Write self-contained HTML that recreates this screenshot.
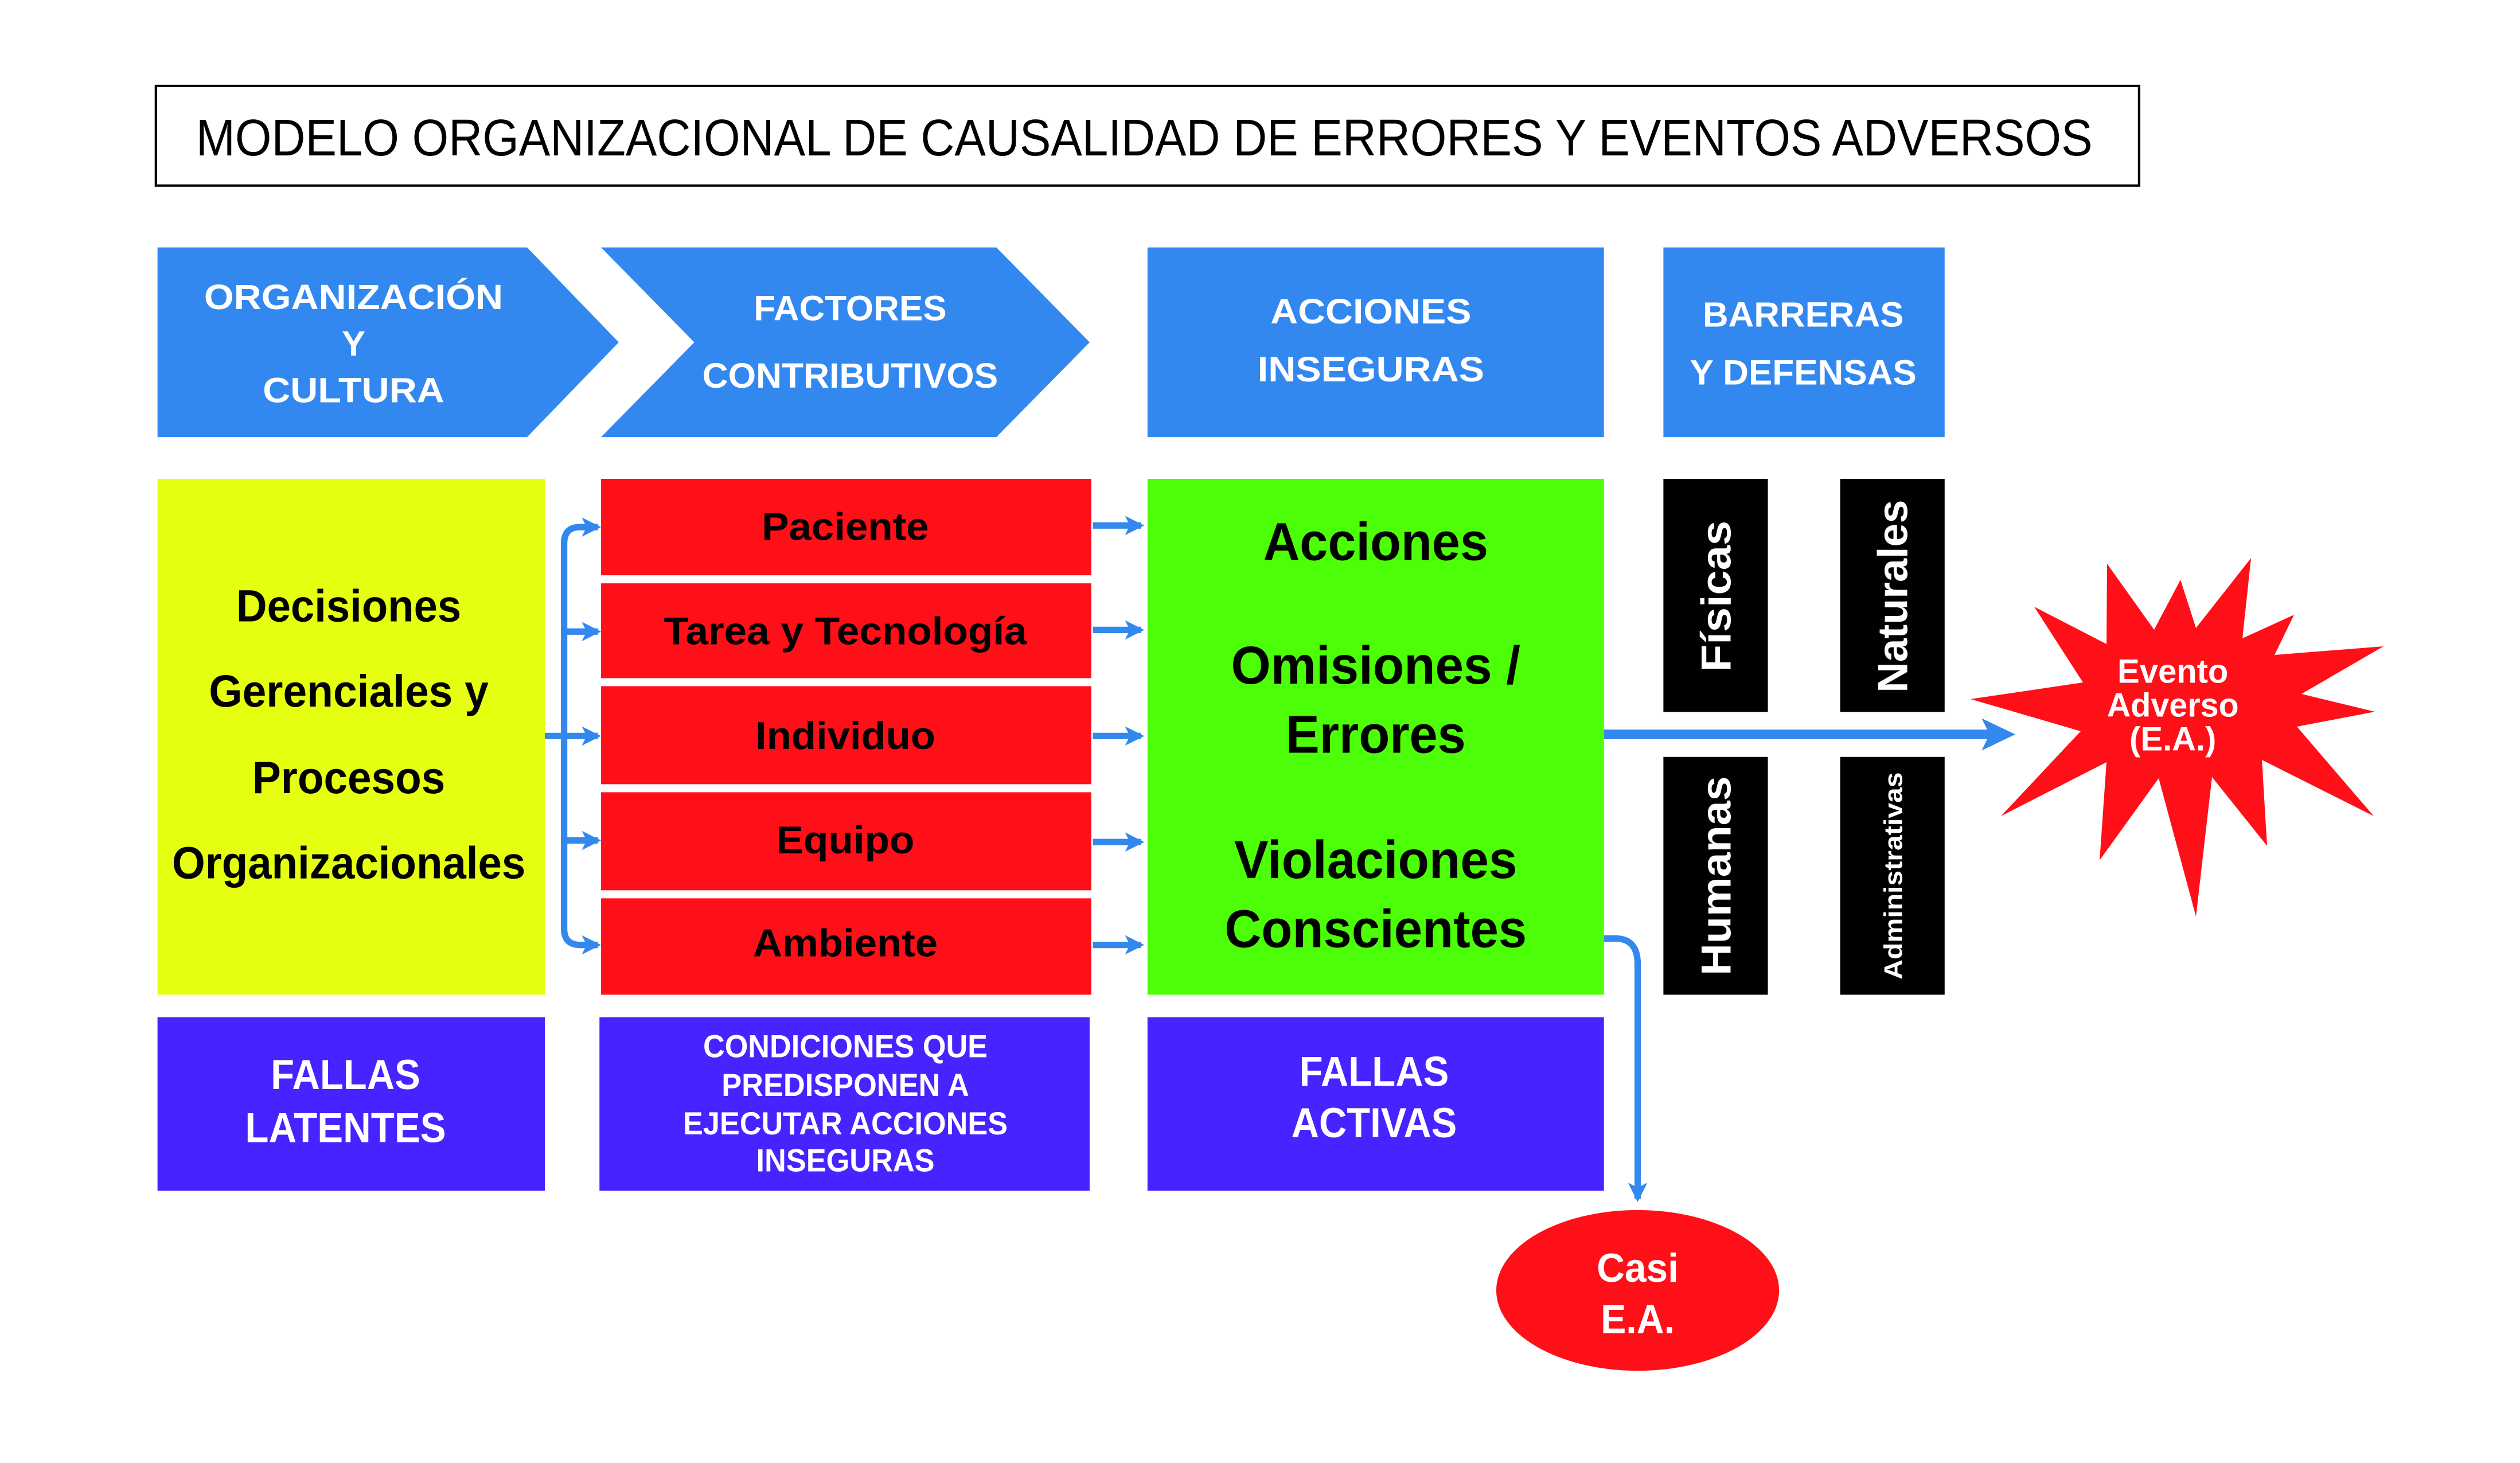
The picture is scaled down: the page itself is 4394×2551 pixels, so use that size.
<!DOCTYPE html>
<html><head><meta charset="utf-8"><style>
html,body{margin:0;padding:0;background:#fff}
svg{display:block}
text{font-family:"Liberation Sans",Arial,sans-serif;font-weight:bold;text-anchor:middle;dominant-baseline:central}
</style></head><body>
<svg width="4394" height="2551" viewBox="0 0 1568 910.4" preserveAspectRatio="none" xmlns="http://www.w3.org/2000/svg">
<defs>
<marker id="ah" markerWidth="12" markerHeight="12" refX="10" refY="6" orient="auto" markerUnits="userSpaceOnUse">
<path d="M0,0 L12,6 L0,12 L3,6 Z" fill="#3388ee"/>
</marker>
</defs>
<rect width="1568" height="911" fill="#fff"/>
<rect x="97" y="53.5" width="1234" height="62" fill="#fff" stroke="#000" stroke-width="1.5"/>
<text x="712" y="86" font-size="32" style="font-weight:normal" textLength="1180" lengthAdjust="spacingAndGlyphs">MODELO ORGANIZACIONAL DE CAUSALIDAD DE ERRORES Y EVENTOS ADVERSOS</text>

<g fill="#3388f0">
<polygon points="98,154 328,154 385,213 328,272 98,272"/>
<polygon points="374,154 620,154 678,213 620,272 374,272 432,213"/>
<rect x="714" y="154" width="284" height="118"/>
<rect x="1035" y="154" width="175" height="118"/>
</g>
<g fill="#fff" font-size="22">
<text x="220" y="185" textLength="186" lengthAdjust="spacingAndGlyphs">ORGANIZACIÓN</text>
<text x="220" y="214">Y</text>
<text x="220" y="243" textLength="113" lengthAdjust="spacingAndGlyphs">CULTURA</text>
<text x="529" y="192" textLength="120" lengthAdjust="spacingAndGlyphs">FACTORES</text>
<text x="529" y="234" textLength="184" lengthAdjust="spacingAndGlyphs">CONTRIBUTIVOS</text>
<text x="853" y="194" textLength="125" lengthAdjust="spacingAndGlyphs">ACCIONES</text>
<text x="853" y="230" textLength="141" lengthAdjust="spacingAndGlyphs">INSEGURAS</text>
<text x="1122" y="196" textLength="125" lengthAdjust="spacingAndGlyphs">BARRERAS</text>
<text x="1122" y="232" textLength="141" lengthAdjust="spacingAndGlyphs">Y DEFENSAS</text>
</g>

<rect x="98" y="298" width="241" height="321" fill="#e6ff10"/>
<g fill="#ff1018">
<rect x="374" y="298" width="305" height="60"/>
<rect x="374" y="363" width="305" height="59"/>
<rect x="374" y="427" width="305" height="61"/>
<rect x="374" y="493" width="305" height="61"/>
<rect x="374" y="559" width="305" height="60"/>
</g>
<rect x="714" y="298" width="284" height="321" fill="#4cff08"/>
<g fill="#000">
<rect x="1035" y="298" width="65" height="145"/>
<rect x="1145" y="298" width="65" height="145"/>
<rect x="1035" y="471" width="65" height="148"/>
<rect x="1145" y="471" width="65" height="148"/>
</g>

<g fill="#000" font-size="28">
<text x="217" y="377" textLength="140" lengthAdjust="spacingAndGlyphs">Decisiones</text>
<text x="217" y="430" textLength="174" lengthAdjust="spacingAndGlyphs">Gerenciales y</text>
<text x="217" y="484" textLength="120" lengthAdjust="spacingAndGlyphs">Procesos</text>
<text x="217" y="537" textLength="220" lengthAdjust="spacingAndGlyphs">Organizacionales</text>
</g>
<g fill="#000" font-size="24">
<text x="526" y="328" textLength="104" lengthAdjust="spacingAndGlyphs">Paciente</text>
<text x="526" y="393" textLength="226" lengthAdjust="spacingAndGlyphs">Tarea y Tecnología</text>
<text x="526" y="458" textLength="112" lengthAdjust="spacingAndGlyphs">Individuo</text>
<text x="526" y="523" textLength="86" lengthAdjust="spacingAndGlyphs">Equipo</text>
<text x="526" y="587" textLength="115" lengthAdjust="spacingAndGlyphs">Ambiente</text>
</g>
<g fill="#000" font-size="33">
<text x="856" y="337" textLength="140" lengthAdjust="spacingAndGlyphs">Acciones</text>
<text x="856" y="414" textLength="180" lengthAdjust="spacingAndGlyphs">Omisiones /</text>
<text x="856" y="457" textLength="112" lengthAdjust="spacingAndGlyphs">Errores</text>
<text x="856" y="535" textLength="176" lengthAdjust="spacingAndGlyphs">Violaciones</text>
<text x="856" y="578" textLength="188" lengthAdjust="spacingAndGlyphs">Conscientes</text>
</g>
<g fill="#fff">
<text font-size="26" transform="translate(1068,371) rotate(-90)" textLength="94" lengthAdjust="spacingAndGlyphs">Físicas</text>
<text font-size="26" transform="translate(1178,371) rotate(-90)" textLength="120" lengthAdjust="spacingAndGlyphs">Naturales</text>
<text font-size="26" transform="translate(1068,545) rotate(-90)" textLength="124" lengthAdjust="spacingAndGlyphs">Humanas</text>
<text font-size="16" transform="translate(1178,545) rotate(-90)" textLength="129" lengthAdjust="spacingAndGlyphs">Administrativas</text>
</g>

<g fill="#4624ff">
<rect x="98" y="633" width="241" height="108"/>
<rect x="373" y="633" width="305" height="108"/>
<rect x="714" y="633" width="284" height="108"/>
</g>
<g fill="#fff" font-size="26">
<text x="215" y="669" textLength="93" lengthAdjust="spacingAndGlyphs">FALLAS</text>
<text x="215" y="702" textLength="125" lengthAdjust="spacingAndGlyphs">LATENTES</text>
<text x="855" y="667" textLength="93" lengthAdjust="spacingAndGlyphs">FALLAS</text>
<text x="855" y="699" textLength="103" lengthAdjust="spacingAndGlyphs">ACTIVAS</text>
</g>
<g fill="#fff" font-size="20">
<text x="526" y="651" textLength="177" lengthAdjust="spacingAndGlyphs">CONDICIONES QUE</text>
<text x="526" y="675" textLength="154" lengthAdjust="spacingAndGlyphs">PREDISPONEN A</text>
<text x="526" y="699" textLength="202" lengthAdjust="spacingAndGlyphs">EJECUTAR ACCIONES</text>
<text x="526" y="722" textLength="111" lengthAdjust="spacingAndGlyphs">INSEGURAS</text>
</g>

<g stroke="#3388ee" stroke-width="4" fill="none">
<line x1="339" y1="458" x2="372" y2="458" marker-end="url(#ah)"/>
<path d="M372,328 L361,328 Q351,328 351,338 L351,578 Q351,588 361,588 L372,588" marker-end="url(#ah)"/>
<path d="M351,338 Q351,328 361,328 L372,328" marker-end="url(#ah)"/>
<line x1="351" y1="393" x2="372" y2="393" marker-end="url(#ah)"/>
<line x1="351" y1="523" x2="372" y2="523" marker-end="url(#ah)"/>
<line x1="680" y1="327" x2="710" y2="327" marker-end="url(#ah)"/>
<line x1="680" y1="392" x2="710" y2="392" marker-end="url(#ah)"/>
<line x1="680" y1="458" x2="710" y2="458" marker-end="url(#ah)"/>
<line x1="680" y1="524" x2="710" y2="524" marker-end="url(#ah)"/>
<line x1="680" y1="588" x2="710" y2="588" marker-end="url(#ah)"/>
<path d="M998,584 L1005,584 Q1019,584 1019,600 L1019,746" marker-end="url(#ah)"/>
</g>
<line x1="998" y1="457" x2="1240" y2="457" stroke="#3388ee" stroke-width="6"/>
<path d="M1233,447 L1254,457 L1233,467 L1238,457 Z" fill="#3388ee"/>

<g transform="scale(0.35685,0.35688)">
<polygon fill="#ff1018" points="3674,983 3756,1098 3802,1011 3829,1095 3925,973 3910,1113 4000,1072 3966,1142 4156,1127 4013,1210 4141,1241 4005,1267 4139,1423 3944,1325 3953,1475 3857,1355 3829,1598 3764,1357 3661,1500 3673,1329 3489,1423 3628,1275 3436,1219 3632,1190 3547,1058 3673,1123"/>
</g>
<g fill="#fff" font-size="21">
<text x="1352" y="418" textLength="69" lengthAdjust="spacingAndGlyphs">Evento</text>
<text x="1352" y="439" textLength="82" lengthAdjust="spacingAndGlyphs">Adverso</text>
<text x="1352" y="460" textLength="54" lengthAdjust="spacingAndGlyphs">(E.A.)</text>
</g>

<ellipse cx="1019" cy="803" rx="88" ry="50" fill="#ff1018"/>
<g fill="#fff" font-size="25">
<text x="1019" y="789" textLength="51" lengthAdjust="spacingAndGlyphs">Casi</text>
<text x="1019" y="821" textLength="46" lengthAdjust="spacingAndGlyphs">E.A.</text>
</g>
</svg>
</body></html>
